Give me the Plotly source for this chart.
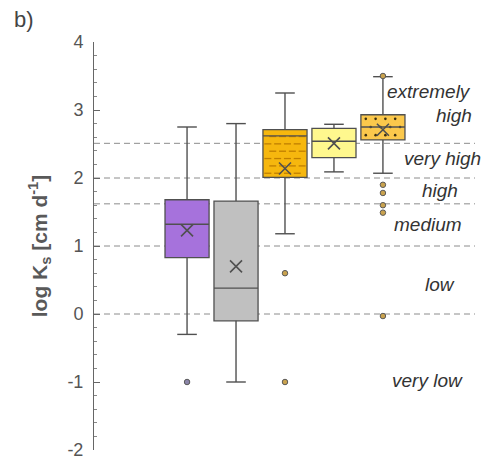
import numpy as np
import plotly.graph_objects as go

# Box statistics per group (log Ks, cm/d)
groups = ["A", "B", "C", "D", "E"]
positions = [0, 1, 2, 3, 4]
q1 = [0.83, -0.10, 2.01, 2.30, 2.56]
median = [1.32, 0.38, 2.62, 2.54, 2.75]
q3 = [1.68, 1.66, 2.71, 2.73, 2.93]
lower_whisker = [-0.30, -1.00, 1.18, 2.09, 2.07]
upper_whisker = [2.75, 2.80, 3.25, 2.79, 3.49]
means = [1.23, 0.70, 2.14, 2.51, 2.71]
outliers = [[-1.0], [], [0.6, -1.0], [], [3.5, 1.90, 1.78, 1.60, 1.49, -0.03]]

fill_colors = ["#a672dc", "#c0c0c0", "#f6b70e", "#fff88e", "#fbc84c"]
outlier_fill = ["#8a84a8", "#999999", "#c9a24e", "#c9a24e", "#c9a24e"]

# Class thresholds and class names
thresholds = [2.51, 2.0, 1.62, 1.0, 0.0]
class_labels = ["extremely", "high", "very high", "high", "medium", "low", "very low"]
class_label_x = [4.95, 5.45, 5.22, 5.16, 4.93, 5.16, 4.9]
class_label_y = [3.27, 2.92, 2.29, 1.81, 1.31, 0.44, -0.98]

y_ticks = [-2, -1, 0, 1, 2, 3, 4]
y_tick_text = ["-2", "-1", "0", "1", "2", "3", "4"]

edge = "#505050"
box_w = 0.9
cap_w = 0.4

fig = go.Figure()

# Box bodies as floating bars
for i in range(len(groups)):
    fig.add_trace(go.Bar(
        x=[positions[i]], y=[q3[i] - q1[i]], base=[q1[i]], width=box_w,
        marker=dict(color=fill_colors[i], line=dict(color=edge, width=1.3)),
        hoverinfo="skip", showlegend=False))


def hatch_grid(k, row_step, col_step, top_pad, bottom_pad):
    """Staggered grid of points filling the box of group k."""
    xs, ys = [], []
    rows = np.arange(q1[k] + bottom_pad, q3[k] - top_pad, row_step)
    for r, yv in enumerate(rows):
        shift = col_step / 2 if r % 2 else 0.0
        for xv in np.arange(positions[k] - box_w / 2 + 0.1 + shift,
                            positions[k] + box_w / 2 - 0.06, col_step):
            xs.append(xv)
            ys.append(yv)
    return xs, ys


# Short dash hatching inside the third box
hx, hy = hatch_grid(2, 0.108, 0.2, 0.02, 0.06)
fig.add_trace(go.Scatter(x=hx, y=hy, mode="markers",
                         marker=dict(symbol="line-ew", size=5,
                                     line=dict(color="#c07f00", width=1.3)),
                         hoverinfo="skip", showlegend=False))

# Dot stippling inside the fifth box
dx, dy = hatch_grid(4, 0.12, 0.2, 0.03, 0.07)
fig.add_trace(go.Scatter(x=dx, y=dy, mode="markers",
                         marker=dict(symbol="circle", size=2.6, color="#3d3010",
                                     line=dict(width=0)),
                         hoverinfo="skip", showlegend=False))

# Whiskers, caps and medians
for i in range(len(groups)):
    p = positions[i]
    xs = [p, p, None, p, p, None,
          p - cap_w / 2, p + cap_w / 2, None, p - cap_w / 2, p + cap_w / 2, None,
          p - box_w / 2, p + box_w / 2]
    ys = [q3[i], upper_whisker[i], None, q1[i], lower_whisker[i], None,
          upper_whisker[i], upper_whisker[i], None, lower_whisker[i], lower_whisker[i], None,
          median[i], median[i]]
    fig.add_trace(go.Scatter(x=xs, y=ys, mode="lines",
                             line=dict(color=edge, width=1.4),
                             hoverinfo="skip", showlegend=False))

# Means
fig.add_trace(go.Scatter(x=positions, y=means, mode="markers",
                         marker=dict(symbol="x-thin", size=12,
                                     line=dict(color=edge, width=1.6)),
                         hoverinfo="skip", showlegend=False))

# Outliers
for i in range(len(groups)):
    if outliers[i]:
        fig.add_trace(go.Scatter(x=[positions[i]] * len(outliers[i]), y=outliers[i],
                                 mode="markers",
                                 marker=dict(symbol="circle", size=5.5, color=outlier_fill[i],
                                             line=dict(color="#5a5a5a", width=1)),
                                 hoverinfo="skip", showlegend=False))

# Threshold lines
for t in thresholds:
    fig.add_shape(type="line", xref="paper", x0=0, x1=1, yref="y", y0=t, y1=t,
                  line=dict(color="#8c8c8c", width=1, dash="6px,4px"), layer="below")

# Class names
for lab, lx, ly in zip(class_labels, class_label_x, class_label_y):
    fig.add_annotation(x=lx, y=ly, xref="x", yref="y", text=f"<i>{lab}</i>",
                       showarrow=False, xanchor="center", yanchor="middle",
                       font=dict(size=19, color="#333333",
                                 family="Liberation Sans, Arial, sans-serif"))

# Panel letter
fig.add_annotation(x=-0.215, y=1.055, xref="paper", yref="paper", text="b)",
                   showarrow=False, xanchor="left", yanchor="middle",
                   font=dict(size=22, color="#444444",
                             family="Liberation Sans, Arial, sans-serif"))

fig.update_layout(
    width=488, height=464,
    margin=dict(l=94, r=13, t=42, b=14, autoexpand=False),
    paper_bgcolor="white", plot_bgcolor="white",
    font=dict(family="Liberation Sans, Arial, sans-serif", color="#555555"),
    barmode="overlay",
    showlegend=False,
    xaxis=dict(range=[-1.9, 5.88], visible=False, fixedrange=True),
    yaxis=dict(range=[-2, 4], tickvals=y_ticks, ticktext=y_tick_text,
               showgrid=False, zeroline=False, automargin=False,
               showline=True, linecolor="#666666", linewidth=1,
               ticks="inside", ticklen=6, tickcolor="#666666",
               ticklabelstandoff=6,
               minor=dict(dtick=0.2, tick0=0, ticks="inside", ticklen=3,
                          tickcolor="#888888", showgrid=False),
               tickfont=dict(size=18, color="#555555"),
               title=dict(text="<b>log K<sub>s</sub> [cm d<sup>-1</sup>]</b>",
                          font=dict(size=21, color="#595959"), standoff=14)),
)

fig.write_html("out.html")
